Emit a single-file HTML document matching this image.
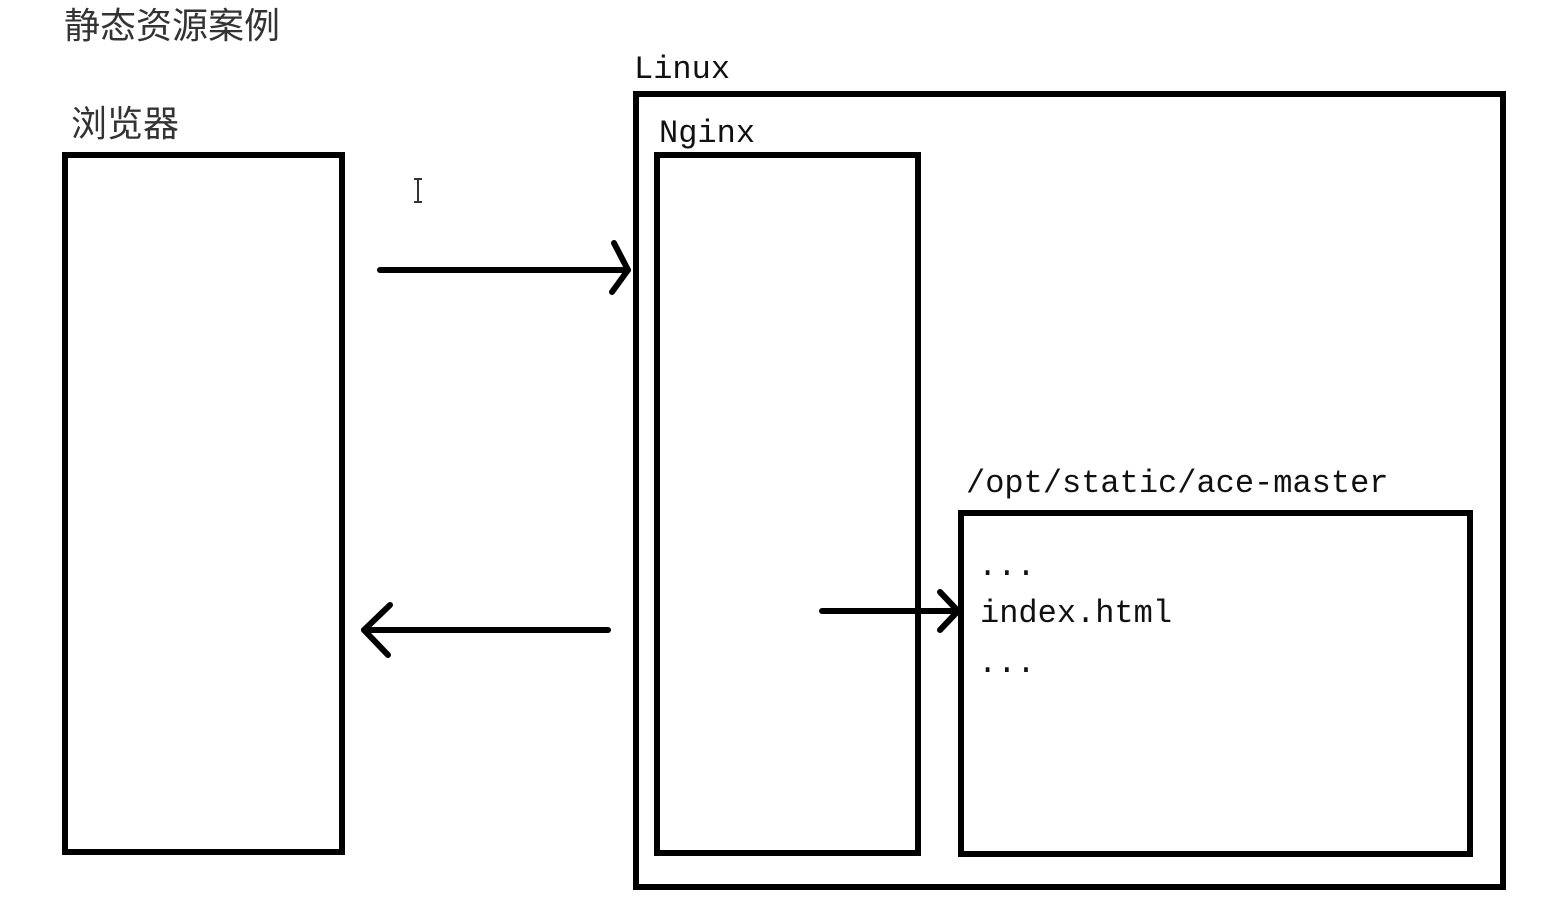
<!DOCTYPE html>
<html><head><meta charset="utf-8"><style>
html,body{margin:0;padding:0;background:#fff;}
svg{display:block;}
.m{font-family:"Liberation Mono","Noto Sans CJK SC",monospace;font-size:32px;fill:#111;}
.c{font-family:"Liberation Sans","Noto Sans CJK SC",sans-serif;font-size:36px;fill:#333;}
</style></head><body>
<svg width="1545" height="924" viewBox="0 0 1545 924" xmlns="http://www.w3.org/2000/svg">
<rect width="1545" height="924" fill="#fff"/>
<text x="64" y="38" class="c">静态资源案例</text>
<text x="71" y="136" class="c">浏览器</text>
<g fill="none" stroke="#000" stroke-width="6">
<rect x="65" y="155" width="277" height="697"/>
<rect x="636" y="94" width="867" height="793"/>
<rect x="657" y="155" width="261" height="698"/>
<rect x="961" y="513" width="509" height="341"/>
</g>
<text x="634" y="78" class="m">Linux</text>
<text x="659" y="142" class="m">Nginx</text>
<text x="966" y="492" class="m">/opt/static/ace-master</text>
<text x="978" y="575" class="m">...</text>
<text x="980" y="622" class="m">index.html</text>
<text x="978" y="672" class="m">...</text>
<g fill="none" stroke="#000" stroke-width="6" stroke-linecap="round" stroke-linejoin="round">
<line x1="380" y1="270" x2="628" y2="270"/>
<polyline points="614,243 628,270 612,292"/>
<line x1="608" y1="630" x2="364" y2="630"/>
<polyline points="390,605 364,630 388,655"/>
<line x1="822" y1="611" x2="958" y2="611"/>
<polyline points="940,592 958,611 940,630"/>
</g>
<g stroke="#333" stroke-width="2" fill="none">
<line x1="418" y1="179" x2="418" y2="202"/>
<line x1="414" y1="179" x2="422" y2="179"/>
<line x1="414" y1="202" x2="422" y2="202"/>
</g>
</svg>
</body></html>
